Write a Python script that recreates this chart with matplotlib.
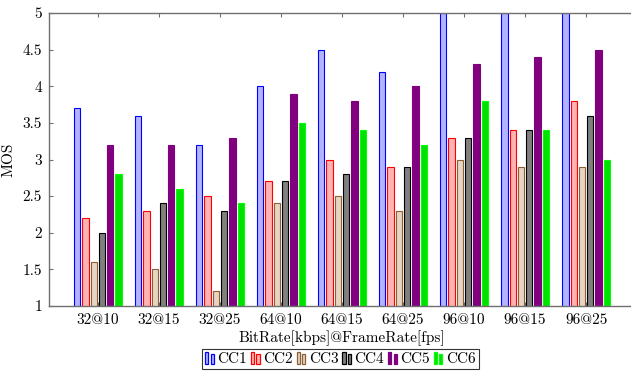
"""Grouped bar chart of MOS per bitrate/framerate setting."""

import numpy as np
import matplotlib.pyplot as plt
from matplotlib.legend_handler import HandlerBase
from matplotlib.patches import Rectangle

plt.rcParams["font.family"] = ["cmr10", "DejaVu Serif"]
plt.rcParams["mathtext.fontset"] = "cm"
plt.rcParams["axes.formatter.use_mathtext"] = True

# data
settings = ["32@10", "32@15", "32@25", "64@10", "64@15", "64@25",
            "96@10", "96@15", "96@25"]
series = ["CC1", "CC2", "CC3", "CC4", "CC5", "CC6"]
cc1 = [3.7, 3.6, 3.2, 4.0, 4.5, 4.2, 5.0, 5.0, 5.0]
cc2 = [2.2, 2.3, 2.5, 2.7, 3.0, 2.9, 3.3, 3.4, 3.8]
cc3 = [1.6, 1.5, 1.2, 2.4, 2.5, 2.3, 3.0, 2.9, 2.9]
cc4 = [2.0, 2.4, 2.3, 2.7, 2.8, 2.9, 3.3, 3.4, 3.6]
cc5 = [3.2, 3.2, 3.3, 3.9, 3.8, 4.0, 4.3, 4.4, 4.5]
cc6 = [2.8, 2.6, 2.4, 3.5, 3.4, 3.2, 3.8, 3.4, 3.0]
values = [cc1, cc2, cc3, cc4, cc5, cc6]
yticks = [1, 1.5, 2, 2.5, 3, 3.5, 4, 4.5, 5]

# (fill, edge) like pgfplots' default bar cycle
styles = [
    ("#b3b3ff", "#0000ff"),
    ("#ffb3b3", "#ff0000"),
    ("#e6d5c3", "#8c5f36"),
    ("#808080", "#000000"),
    ("#800080", "#800080"),
    ("#00e000", "#00ff00"),
]


class TwoBars(HandlerBase):
    """pgfplots-style ybar legend image: two small bars."""

    def create_artists(self, legend, orig, xd, yd, w, h, fs, trans):
        bw = w * 0.32
        out = []
        for x0, hh in ((0.02 * w, h * 1.2), (0.56 * w, h * 0.95)):
            r = Rectangle((x0 - xd, -yd - 0.15 * h), bw, hh,
                          facecolor=orig.get_facecolor(),
                          edgecolor=orig.get_edgecolor(),
                          linewidth=0.9, transform=trans)
            out.append(r)
        return out


fig = plt.figure(figsize=(6.31, 3.72), dpi=100)
ax = fig.add_axes([49 / 631, 66 / 372, 586 / 631, 293 / 372])

x = np.arange(len(settings))
pitch = 0.136
width = 0.103
handles = []
for i, (name, vals) in enumerate(zip(series, values)):
    fc, ec = styles[i]
    bars = ax.bar(x + (i - 2.5) * pitch, vals, width=width, bottom=0,
                  color=fc, edgecolor=ec, linewidth=0.8, label=name, zorder=2)
    handles.append(bars.patches[0])

ax.set_xlim(-0.8, len(settings) - 1 + 0.8)
ax.set_ylim(1, 5)
ax.set_xticks(x)
ax.set_xticklabels(settings)
ax.set_yticks(yticks)
ax.set_yticklabels([f"{t:g}" for t in yticks])
ax.tick_params(direction="in", top=True, right=True, length=3,
               color="#707070", labelsize=11, pad=5)
for s in ax.spines.values():
    s.set_color("#707070")
    s.set_linewidth(1.0)

ax.set_ylabel("MOS", fontsize=11, labelpad=5)
ax.set_xlabel("BitRate[kbps]@FrameRate[fps]", fontsize=11, labelpad=3)

leg = ax.legend(handles, series, loc="upper left",
                bbox_to_anchor=(153 / 586, -43 / 293),
                ncol=6, fontsize=11, frameon=True, fancybox=False,
                handler_map={Rectangle: TwoBars()},
                handlelength=0.65, handleheight=0.7, handletextpad=0.15,
                columnspacing=0.25, borderpad=0.2, borderaxespad=0)
leg.get_frame().set_edgecolor("black")
leg.get_frame().set_linewidth(0.8)

fig.savefig("out.png", dpi=100)
